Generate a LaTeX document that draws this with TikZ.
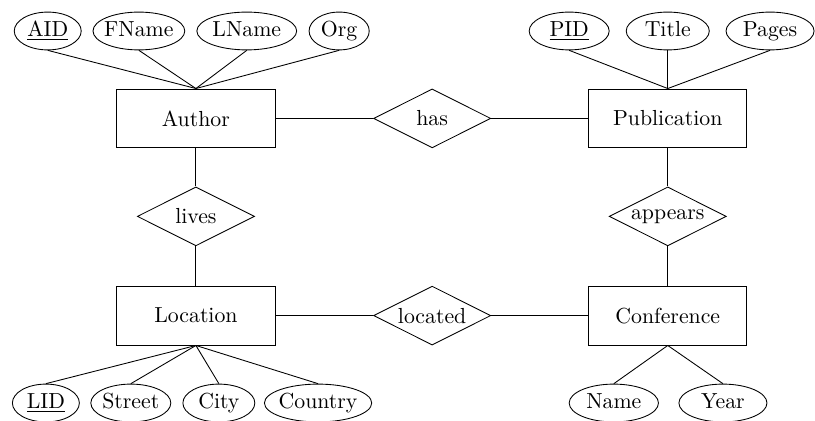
\documentclass[tikz,border=0pt]{standalone}
\usetikzlibrary{shapes.geometric}

\begin{document}
\begin{tikzpicture}[
		entity/.style = {draw, rectangle, minimum width=2.55cm, minimum height=0.95cm},
		rel/.style = {draw, diamond, aspect=2, inner sep=0pt, minimum width=1.89cm, minimum height=0.95cm},
		attr/.style = {draw, ellipse, inner xsep=-3pt, inner ysep=0pt, minimum height=0.61cm, text height=1.5ex, text depth=.25ex}]
	\useasboundingbox (0,0) rectangle (13.145,-6.79);

	% entities and relations
	\node[entity] (author) at (3.16,-1.91) {Author};
	\node[entity] (pub) at (10.77,-1.91) {Publication};
	\node[entity] (loc) at (3.16,-5.09) {Location};
	\node[entity] (conf) at (10.77,-5.09) {Conference};

	\node[rel] (has) at (6.97,-1.91) {has};
	\node[rel] (lives) at (3.16,-3.49) {lives};
	\node[rel] (appears) at (10.77,-3.49) {appears};
	\node[rel] (located) at (6.97,-5.09) {located};

	% attributes
	\node[attr, minimum width=1.08cm] (aid) at (0.77,-0.50) {\underline{AID}};
	\node[attr, minimum width=1.48cm] (fname) at (2.24,-0.50) {FName};
	\node[attr, minimum width=1.61cm] (lname) at (3.98,-0.50) {LName};
	\node[attr, minimum width=0.97cm] (org) at (5.47,-0.50) {Org};

	\node[attr, minimum width=1.29cm] (pid) at (9.18,-0.50) {\underline{PID}};
	\node[attr, minimum width=1.34cm] (title) at (10.77,-0.50) {Title};
	\node[attr, minimum width=1.42cm] (pages) at (12.42,-0.50) {Pages};

	\node[attr, minimum width=1.08cm] (lid) at (0.74,-6.50) {\underline{LID}};
	\node[attr, minimum width=1.29cm] (street) at (2.11,-6.50) {Street};
	\node[attr, minimum width=1.16cm] (city) at (3.53,-6.50) {City};
	\node[attr, minimum width=1.73cm] (country) at (5.13,-6.50) {Country};

	\node[attr, minimum width=1.44cm] (cname) at (9.90,-6.50) {Name};
	\node[attr, minimum width=1.42cm] (year) at (11.66,-6.50) {Year};

	\path (author) edge (has)
		(has) edge (pub)
		(author) edge (lives)
		(lives) edge (loc)
		(pub) edge (appears)
		(appears) edge (conf)
		(loc) edge (located)
		(located) edge (conf);

	\path (aid.south) edge (author.north)
		(fname.south) edge (author.north)
		(lname.south) edge (author.north)
		(org.south) edge (author.north);

	\path (pid.south) edge (pub.north)
		(title.south) edge (pub.north)
		(pages.south) edge (pub.north);

	\path (loc.south) edge (lid.north)
		(loc.south) edge (street.north)
		(loc.south) edge (city.north)
		(loc.south) edge (country.north);

	\path (conf.south) edge (cname.north)
		(conf.south) edge (year.north);
\end{tikzpicture}
\end{document}
